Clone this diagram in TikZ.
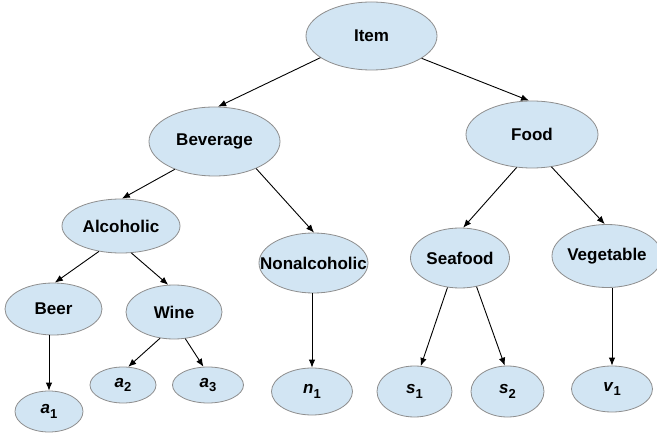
\documentclass[tikz,border=0pt]{standalone}
\usepackage{fontspec}
\setmainfont{Liberation Sans}
\usetikzlibrary{shapes.geometric,arrows.meta}
\definecolor{nodefill}{HTML}{D2E5F3}
\definecolor{nodeline}{HTML}{8E8E8E}
\newcommand{\varsub}[2]{{\fontsize{17}{17}\selectfont\textit{#1}}\raisebox{-0.5ex}{\fontsize{13}{13}\selectfont #2}}
\tikzset{
  ell/.style={ellipse, draw=nodeline, fill=nodefill, line width=0.8pt, inner sep=0pt,
    font=\fontsize{17}{17}\selectfont\bfseries},
  arr/.style={-{Latex[length=8pt,width=6.5pt]}, line width=0.9pt, black},
}
\begin{document}
\begin{tikzpicture}[x=1pt,y=-1pt]
\useasboundingbox[fill=white] (0,0) rectangle (657,433);
\node[ell, minimum width=131pt, minimum height=68pt] (item) at (371.5,36) {Item};
\node[ell, minimum width=131pt, minimum height=69pt] (bev) at (214.5,141.5) {Beverage};
\node[ell, minimum width=132pt, minimum height=67pt] (food) at (532,134.5) {Food};
\node[ell, minimum width=118pt, minimum height=54pt] (alc) at (121,226) {Alcoholic};
\node[ell, minimum width=109pt, minimum height=60pt] (non) at (313.5,263) {\makebox[0pt]{Nonalcoholic}};
\node[ell, minimum width=99pt, minimum height=60pt] (sea) at (460,258) {Seafood};
\node[ell, minimum width=110pt, minimum height=63pt] (veg) at (607,256) {\makebox[0pt]{Vegetable}};
\node[ell, minimum width=97pt, minimum height=52pt] (beer) at (53.5,309) {Beer};
\node[ell, minimum width=96pt, minimum height=54pt] (wine) at (174,312) {Wine};
\node[ell, minimum width=68pt, minimum height=41pt] (a1) at (49,411.5) {\varsub{a}{1}};
\node[ell, minimum width=66pt, minimum height=36pt] (a2) at (123,385) {\varsub{a}{2}};
\node[ell, minimum width=71pt, minimum height=36pt] (a3) at (208,385) {\varsub{a}{3}};
\node[ell, minimum width=81pt, minimum height=47pt] (n1) at (312,391.5) {\varsub{n}{1}};
\node[ell, minimum width=75pt, minimum height=51pt] (s1) at (414.5,391.5) {\varsub{s}{1}};
\node[ell, minimum width=73pt, minimum height=51pt] (s2) at (507.5,391.5) {\varsub{s}{2}};
\node[ell, minimum width=81pt, minimum height=46pt] (v1) at (612,389) {\varsub{v}{1}};
\draw[arr] (item.203) -- (bev.84);
\draw[arr] (item.336) -- (food.95);
\draw[arr] (bev.215) -- (alc.88);
\draw[arr] (bev.327) -- (non.89);
\draw[arr] (food.245) -- (sea.84);
\draw[arr] (food.301) -- (veg.94);
\draw[arr] (alc.229) -- (beer.87);
\draw[arr] (alc.291) -- (wine.102);
\draw[arr] (a1.north |- beer.south) -- (a1.north);
\draw[arr] (wine.242) -- (a2.74);
\draw[arr] (wine.293) -- (a3.104);
\draw[arr] (n1.north |- non.south) -- (n1.north);
\draw[arr] (sea.247) -- (s1.76);
\draw[arr] (sea.300) -- (s2.96);
\draw[arr] (v1.north |- veg.south) -- (v1.north);
\end{tikzpicture}
\end{document}
